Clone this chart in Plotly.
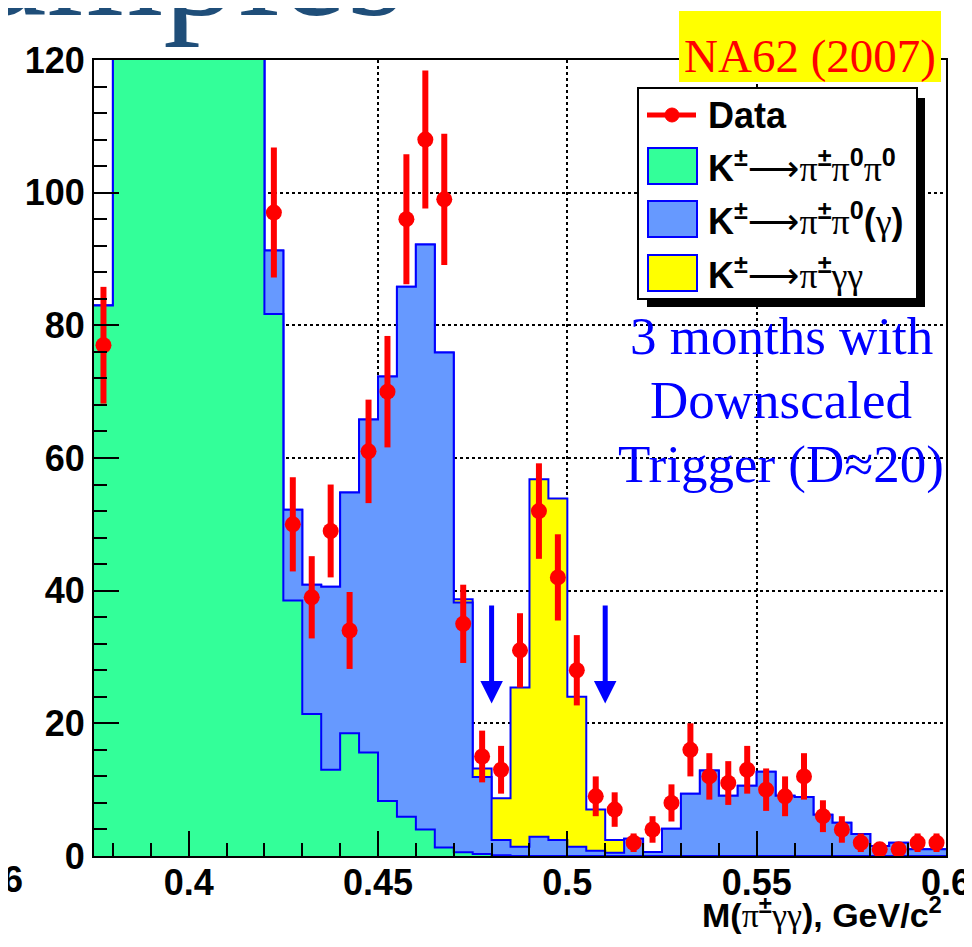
import plotly.graph_objects as go

# ---------------- data ----------------
bin_edges = [round(0.375 + 0.005 * i, 3) for i in range(46)]

# K -> pi pi0 pi0 (green), counts per bin (bins 0.38-0.42 are far off-scale)
green = [83, 200, 320, 410, 460, 470, 440, 370, 280, 81.7, 38.5, 21.4, 13.0, 18.5, 15.6,
         8.3, 5.9, 4.0, 1.3, 0.55, 0.3, 0.1, 0, 0, 0, 0, 0, 0, 0, 0,
         0, 0, 0, 0, 0, 0, 0, 0, 0, 0, 0, 0, 0, 0, 0]
# K -> pi pi0 (gamma) (blue), counts per bin
blue = [0, 8, 10, 12, 12, 12, 10, 10, 10, 9.6, 13.7, 19.5, 27.6, 36.3, 50.2,
        64.0, 79.9, 88.2, 74.6, 37.65, 11.6, 2.3, 1.4, 2.9, 2.4, 1.4, 0.8, 0.5, 2.6, 0.6,
        4.1, 9.4, 12.9, 9.1, 10.6, 12.7, 9.1, 8.9, 6.2, 5.0, 3.3, 1.5, 2.0, 1.0, 1.0]
# K -> pi gamma gamma (yellow), counts per bin
yellow = [0, 0, 0, 0, 0, 0, 0, 0, 0, 0, 0, 0, 0, 0, 0,
          0, 0, 0, 0, 0.5, 1.3, 6.3, 24.0, 53.9, 51.5, 22.6, 6.2, 1.9, 0, 0,
          0, 0, 0, 0, 0, 0, 0, 0, 0, 0, 0, 0, 0, 0, 0]

data_x = [0.3775, 0.4225, 0.4275, 0.4325, 0.4375, 0.4425, 0.4475, 0.4525, 0.4575, 0.4625,
          0.4675, 0.4725, 0.4775, 0.4825, 0.4875, 0.4925, 0.4975, 0.5025, 0.5075, 0.5125,
          0.5175, 0.5225, 0.5275, 0.5325, 0.5375, 0.5425, 0.5475, 0.5525, 0.5575, 0.5625,
          0.5675, 0.5725, 0.5775, 0.5825, 0.5875, 0.5925, 0.5975]
data_y = [77, 97, 50, 39, 49, 34, 61, 70, 96, 108,
          99, 35, 15, 13, 31, 52, 42, 28, 9, 7,
          2, 4, 8, 16, 12, 11, 13, 10, 9, 12,
          6, 4, 2, 1, 1, 2, 2]
data_err = [8.8, 9.8, 7.1, 6.2, 7.0, 5.8, 7.8, 8.4, 9.8, 10.4,
            9.9, 5.9, 3.9, 3.6, 5.6, 7.2, 6.5, 5.3, 3.0, 2.6,
            1.4, 2.0, 2.8, 4.0, 3.5, 3.3, 3.6, 3.2, 3.0, 3.5,
            2.4, 2.0, 1.4, 1.0, 1.0, 1.4, 1.4]

arrow_x = [0.48, 0.51]
arrow_top, arrow_tip = 38, 23

# ---------------- styling ----------------
GREEN = "#33FF99"
BLUEF = "#6699FF"
YELLOW = "#FFFF00"
OUTLINE = "#0000FF"
SANS = "Liberation Sans, Arial, sans-serif"
SERIF = "Liberation Serif, Times New Roman, serif"


def gk(ch):
    return '<span style="font-family:Liberation Serif;font-weight:normal">' + ch + '</span>'


ARROW = '<span style="font-family:DejaVu Sans;font-weight:normal">⟶</span>'
legend_labels = ["Data",
                 "K<sup>±</sup>" + ARROW + gk("π") + "<sup>±</sup>" + gk("π") + "<sup>0</sup>" + gk("π") + "<sup>0</sup>",
                 "K<sup>±</sup>" + ARROW + gk("π") + "<sup>±</sup>" + gk("π") + "<sup>0</sup>(" + gk("γ") + ")",
                 "K<sup>±</sup>" + ARROW + gk("π") + "<sup>±</sup>" + gk("γγ")]

W, H = 972, 947
PAGE_OFF = 8  # the html page body adds an 8px offset to the figure
# plot area in page pixels
PX0, PX1, PY0, PY1 = 94, 946, 60, 856


def px(x):
    return (x - PX0) / (PX1 - PX0)


def py(y):
    return (PY1 - y) / (PY1 - PY0)


cum_blue = [g + b for g, b in zip(green, blue)]
cum_total = [c + y for c, y in zip(cum_blue, yellow)]

fig = go.Figure()


def step_trace(vals, fill):
    return go.Scatter(
        x=bin_edges, y=list(vals) + [vals[-1]],
        mode="lines", line=dict(shape="hv", color=OUTLINE, width=2),
        fill="tozeroy", fillcolor=fill, showlegend=False, hoverinfo="skip")


fig.add_trace(step_trace(cum_total, YELLOW))
fig.add_trace(step_trace(cum_blue, BLUEF))
fig.add_trace(step_trace(green, GREEN))

fig.add_trace(go.Scatter(
    x=data_x, y=data_y, mode="markers",
    marker=dict(color="#FF0000", size=16, symbol="circle"),
    error_y=dict(type="data", array=data_err, color="#FF0000", thickness=6, width=0),
    showlegend=False, hoverinfo="skip"))

axis_common = dict(
    showline=True, linecolor="black", linewidth=2, mirror=True,
    ticks="inside", tickcolor="black", tickwidth=2, ticklen=25,
    showgrid=True, gridcolor="black", gridwidth=1.5, griddash="dot",
    zeroline=False, automargin=False,
    tickfont=dict(family=SANS, size=36, color="black", weight="bold"),
)

fig.update_xaxes(range=[0.375, 0.6], tickmode="array",
                 tickvals=[0.4, 0.45, 0.5, 0.55, 0.6],
                 ticktext=["0.4", "0.45", "0.5", "0.55", "0.6"],
                 ticklabelstandoff=-6,
                 minor=dict(dtick=0.01, tick0=0.4, ticks="inside", ticklen=13,
                            tickwidth=2, tickcolor="black", showgrid=False),
                 **axis_common)
fig.update_yaxes(range=[0, 120], tickmode="array",
                 tickvals=[0, 20, 40, 60, 80, 100, 120],
                 minor=dict(dtick=4, tick0=0, ticks="inside", ticklen=13,
                            tickwidth=2, tickcolor="black", showgrid=False),
                 **axis_common)

shapes = []
annotations = []

# arrows
for ax_ in arrow_x:
    annotations.append(dict(
        x=ax_, y=arrow_tip, ax=ax_, ay=arrow_top, xref="x", yref="y",
        axref="x", ayref="y", text="", showarrow=True, arrowhead=2,
        arrowsize=0.9, arrowwidth=5, arrowcolor="#0000FF"))

# legend (drawn by hand to match the ROOT box)
LX0, LX1, LY0, LY1 = 638, 917, 88, 299
shapes.append(dict(type="rect", xref="paper", yref="paper",
                   x0=px(LX0 + 9), x1=px(LX1 + 8), y0=py(LY1 + 8), y1=py(LY0 + 10),
                   fillcolor="black", line=dict(width=0), layer="above"))
shapes.append(dict(type="rect", xref="paper", yref="paper",
                   x0=px(LX0), x1=px(LX1), y0=py(LY1), y1=py(LY0),
                   fillcolor="white", line=dict(color="black", width=2), layer="above"))
row_y = [115, 166, 219, 273]
# data entry
shapes.append(dict(type="line", xref="paper", yref="paper",
                   x0=px(647), x1=px(696), y0=py(row_y[0]), y1=py(row_y[0]),
                   line=dict(color="#FF0000", width=5), layer="above"))
shapes.append(dict(type="circle", xref="paper", yref="paper",
                   x0=px(665), x1=px(679), y0=py(row_y[0] + 7), y1=py(row_y[0] - 7),
                   fillcolor="#FF0000", line=dict(color="#FF0000", width=1), layer="above"))
for ry, col in zip(row_y[1:], [GREEN, BLUEF, YELLOW]):
    shapes.append(dict(type="rect", xref="paper", yref="paper",
                       x0=px(648), x1=px(697), y0=py(ry + 18), y1=py(ry - 18),
                       fillcolor=col, line=dict(color=OUTLINE, width=2), layer="above"))
for ry, lab in zip(row_y, legend_labels):
    annotations.append(dict(
        x=px(706), y=py(ry), xref="paper", yref="paper", xanchor="left", yanchor="middle",
        text=lab, showarrow=False,
        font=dict(family=SANS, size=36, color="black", weight="bold")))

# NA62 label
annotations.append(dict(
    x=px(679), y=py(11), xref="paper", yref="paper", xanchor="left", yanchor="top",
    text="NA62 (2007)", showarrow=False, width=262, height=71, valign="bottom",
    bgcolor=YELLOW, borderpad=0, borderwidth=0,
    font=dict(family=SERIF, size=47, color="#FF0000")))

# blue comment
for txt, cy in zip(["3 months with", "Downscaled", "Trigger (D≈20)"], [336, 400, 464]):
    annotations.append(dict(
        x=px(781), y=py(cy), xref="paper", yref="paper", xanchor="center", yanchor="middle",
        text=txt, showarrow=False,
        font=dict(family=SERIF, size=53, color="#0000FF")))

# axis title
annotations.append(dict(
    x=px(944), y=py(912), xref="paper", yref="paper", xanchor="right", yanchor="middle",
    text="M(" + gk("π") + "<sup>±</sup>" + gk("γγ") + "), GeV/c<sup>2</sup>", showarrow=False,
    font=dict(family=SANS, size=34, color="black", weight="bold")))

# cropped remnants of the slide around the chart
annotations.append(dict(
    x=px(25), y=py(880), xref="paper", yref="paper", xanchor="right", yanchor="middle",
    text="6", showarrow=False,
    font=dict(family=SANS, size=36, color="black", weight="bold")))
annotations.append(dict(
    x=px(-22), y=py(49), xref="paper", yref="paper", xanchor="left", yanchor="bottom",
    text="amples", showarrow=False,
    font=dict(family=SERIF, size=150, color="#1F4E79")))

ml = PX0 - PAGE_OFF
mt = PY0 - PAGE_OFF
fig.update_layout(
    width=W, height=H,
    margin=dict(l=ml, r=W - ml - (PX1 - PX0), t=mt, b=H - mt - (PY1 - PY0)),
    plot_bgcolor="white", paper_bgcolor="white",
    shapes=shapes, annotations=annotations, showlegend=False,
)

fig.write_html("out.html")
